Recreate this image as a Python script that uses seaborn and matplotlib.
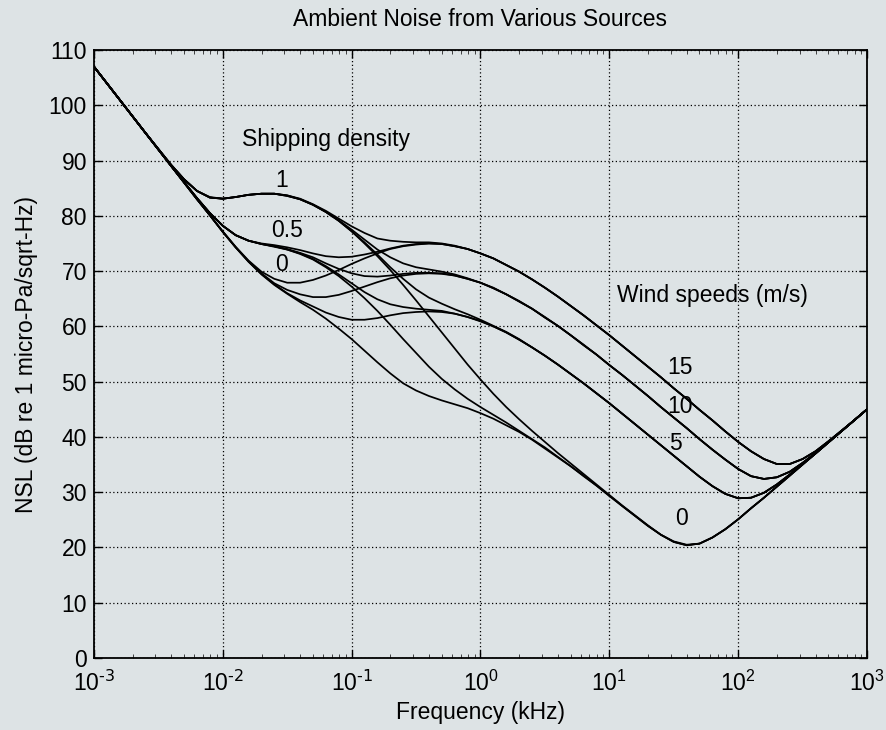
import matplotlib
matplotlib.use("Agg")
import matplotlib.pyplot as plt
import seaborn as sns
import pandas as pd

# sample frequencies (kHz), 0.1 decade apart
freq_khz = [0.001, 0.001259, 0.001585, 0.001995, 0.002512, 0.003162, 0.003981, 0.005012, 0.00631, 0.007943,
            0.01, 0.01259, 0.01585, 0.01995, 0.02512, 0.03162, 0.03981, 0.05012, 0.0631, 0.07943,
            0.1, 0.1259, 0.1585, 0.1995, 0.2512, 0.3162, 0.3981, 0.5012, 0.631, 0.7943,
            1.0, 1.259, 1.585, 1.995, 2.512, 3.162, 3.981, 5.012, 6.31, 7.943,
            10.0, 12.59, 15.85, 19.95, 25.12, 31.62, 39.81, 50.12, 63.1, 79.43,
            100.0, 125.9, 158.5, 199.5, 251.2, 316.2, 398.1, 501.2, 631.0, 794.3, 1000.0]

# NSL (dB), shipping density s / wind speed w
nsl_s0_w0 = [107.0, 104.0, 101.0, 98.0, 95.0, 92.0, 89.0, 86.0, 83.0, 80.1, 77.1, 74.3, 71.7, 69.4, 67.5, 65.9,
             64.4, 63.0, 61.4, 59.6, 57.7, 55.6, 53.5, 51.5, 49.7, 48.4, 47.4, 46.6, 45.9, 45.2, 44.3, 43.3,
             42.1, 40.9, 39.5, 37.9, 36.3, 34.7, 32.9, 31.2, 29.3, 27.5, 25.7, 23.9, 22.3, 21.0, 20.4, 20.7,
             21.8, 23.3, 25.1, 27.1, 29.0, 31.0, 33.0, 35.0, 37.0, 39.0, 41.0, 43.0, 45.0]
nsl_s0_w5 = [107.0, 104.0, 101.0, 98.0, 95.0, 92.0, 89.0, 86.0, 83.0, 80.1, 77.1, 74.3, 71.7, 69.5, 67.6, 66.0,
             64.7, 63.6, 62.5, 61.7, 61.2, 61.2, 61.5, 62.0, 62.4, 62.6, 62.7, 62.6, 62.3, 61.7, 60.9, 60.0,
             58.9, 57.6, 56.2, 54.7, 53.1, 51.4, 49.7, 47.9, 46.1, 44.2, 42.3, 40.4, 38.5, 36.6, 34.7, 32.8,
             31.1, 29.7, 28.9, 29.0, 29.9, 31.4, 33.2, 35.1, 37.0, 39.0, 41.0, 43.0, 45.0]
nsl_s0_w10 = [107.0, 104.0, 101.0, 98.0, 95.0, 92.0, 89.0, 86.0, 83.0, 80.1, 77.1, 74.3, 71.8, 69.6, 67.8, 66.6,
              65.8, 65.3, 65.3, 65.7, 66.4, 67.2, 68.0, 68.7, 69.2, 69.5, 69.6, 69.5, 69.2, 68.6, 67.9, 66.9,
              65.8, 64.5, 63.2, 61.6, 60.1, 58.4, 56.6, 54.9, 53.0, 51.2, 49.3, 47.4, 45.4, 43.5, 41.6, 39.6,
              37.7, 35.9, 34.2, 32.9, 32.4, 32.7, 33.7, 35.3, 37.1, 39.1, 41.0, 43.0, 45.0]
nsl_s0_w15 = [107.0, 104.0, 101.0, 98.0, 95.0, 92.0, 89.0, 86.0, 83.0, 80.1, 77.2, 74.4, 71.9, 69.9, 68.6, 67.9,
              67.9, 68.4, 69.2, 70.2, 71.3, 72.3, 73.2, 74.0, 74.5, 74.8, 75.0, 74.9, 74.5, 74.0, 73.2, 72.3,
              71.1, 69.9, 68.5, 67.0, 65.4, 63.7, 62.0, 60.2, 58.4, 56.5, 54.6, 52.7, 50.8, 48.8, 46.9, 44.9,
              43.0, 41.0, 39.1, 37.4, 36.0, 35.1, 35.1, 36.0, 37.4, 39.2, 41.1, 43.0, 45.0]
nsl_s05_w0 = [107.0, 104.0, 101.0, 98.0, 95.0, 92.0, 89.0, 86.1, 83.2, 80.5, 78.2, 76.5, 75.5, 74.9, 74.4, 73.9,
              73.1, 72.1, 70.7, 69.1, 67.2, 65.1, 62.8, 60.3, 57.7, 55.2, 52.7, 50.5, 48.6, 46.9, 45.4, 44.0,
              42.6, 41.1, 39.6, 38.1, 36.4, 34.7, 33.0, 31.2, 29.4, 27.5, 25.7, 23.9, 22.3, 21.0, 20.4, 20.7,
              21.8, 23.3, 25.1, 27.1, 29.0, 31.0, 33.0, 35.0, 37.0, 39.0, 41.0, 43.0, 45.0]
nsl_s05_w5 = [107.0, 104.0, 101.0, 98.0, 95.0, 92.0, 89.0, 86.1, 83.2, 80.5, 78.2, 76.5, 75.5, 74.9, 74.5, 73.9,
              73.2, 72.2, 70.9, 69.4, 67.8, 66.2, 64.9, 64.0, 63.5, 63.2, 63.0, 62.8, 62.3, 61.7, 61.0, 60.0,
              58.9, 57.6, 56.2, 54.7, 53.1, 51.4, 49.7, 47.9, 46.1, 44.2, 42.3, 40.4, 38.5, 36.6, 34.7, 32.8,
              31.1, 29.7, 28.9, 29.0, 29.9, 31.4, 33.2, 35.1, 37.0, 39.0, 41.0, 43.0, 45.0]
nsl_s05_w10 = [107.0, 104.0, 101.0, 98.0, 95.0, 92.0, 89.0, 86.1, 83.2, 80.5, 78.2, 76.5, 75.5, 74.9, 74.5, 74.0,
               73.3, 72.5, 71.4, 70.4, 69.6, 69.1, 69.0, 69.2, 69.5, 69.7, 69.7, 69.6, 69.2, 68.6, 67.9, 66.9,
               65.8, 64.5, 63.2, 61.6, 60.1, 58.4, 56.6, 54.9, 53.0, 51.2, 49.3, 47.4, 45.4, 43.5, 41.6, 39.6,
               37.7, 35.9, 34.2, 32.9, 32.4, 32.7, 33.7, 35.3, 37.1, 39.1, 41.0, 43.0, 45.0]
nsl_s05_w15 = [107.0, 104.0, 101.0, 98.0, 95.0, 92.0, 89.0, 86.1, 83.2, 80.5, 78.2, 76.5, 75.5, 75.0, 74.7, 74.3,
               73.8, 73.2, 72.7, 72.5, 72.6, 73.0, 73.5, 74.1, 74.6, 74.9, 75.0, 74.9, 74.5, 74.0, 73.2, 72.3,
               71.1, 69.9, 68.5, 67.0, 65.4, 63.7, 62.0, 60.2, 58.4, 56.5, 54.6, 52.7, 50.8, 48.8, 46.9, 44.9,
               43.0, 41.0, 39.1, 37.4, 36.0, 35.1, 35.1, 36.0, 37.4, 39.2, 41.1, 43.0, 45.0]
nsl_s1_w0 = [107.0, 104.0, 101.0, 98.0, 95.0, 92.1, 89.2, 86.6, 84.5, 83.3, 83.1, 83.4, 83.8, 84.0, 84.0, 83.6,
             83.0, 82.0, 80.7, 79.1, 77.2, 75.0, 72.7, 70.2, 67.5, 64.7, 61.8, 58.9, 56.0, 53.1, 50.4, 47.8,
             45.4, 43.2, 41.1, 39.1, 37.1, 35.2, 33.3, 31.4, 29.5, 27.6, 25.8, 24.0, 22.3, 21.1, 20.5, 20.7,
             21.8, 23.3, 25.1, 27.1, 29.0, 31.0, 33.0, 35.0, 37.0, 39.0, 41.0, 43.0, 45.0]
nsl_s1_w5 = [107.0, 104.0, 101.0, 98.0, 95.0, 92.1, 89.2, 86.6, 84.5, 83.3, 83.1, 83.4, 83.8, 84.0, 84.0, 83.6,
             83.0, 82.0, 80.7, 79.1, 77.2, 75.2, 73.0, 70.7, 68.6, 66.7, 65.2, 64.1, 63.1, 62.2, 61.2, 60.1,
             59.0, 57.7, 56.2, 54.7, 53.1, 51.4, 49.7, 47.9, 46.1, 44.2, 42.3, 40.4, 38.5, 36.6, 34.7, 32.8,
             31.1, 29.7, 28.9, 29.0, 29.9, 31.4, 33.2, 35.1, 37.0, 39.0, 41.0, 43.0, 45.0]
nsl_s1_w10 = [107.0, 104.0, 101.0, 98.0, 95.0, 92.1, 89.2, 86.6, 84.5, 83.3, 83.1, 83.4, 83.8, 84.0, 84.0, 83.7,
              83.0, 82.0, 80.7, 79.2, 77.5, 75.7, 73.9, 72.5, 71.4, 70.7, 70.3, 69.9, 69.4, 68.7, 67.9, 67.0,
              65.8, 64.6, 63.2, 61.7, 60.1, 58.4, 56.7, 54.9, 53.0, 51.2, 49.3, 47.4, 45.4, 43.5, 41.6, 39.6,
              37.7, 35.9, 34.2, 32.9, 32.4, 32.7, 33.7, 35.3, 37.1, 39.1, 41.0, 43.0, 45.0]
nsl_s1_w15 = [107.0, 104.0, 101.0, 98.0, 95.0, 92.1, 89.2, 86.6, 84.5, 83.4, 83.1, 83.4, 83.8, 84.0, 84.0, 83.7,
              83.1, 82.1, 80.9, 79.5, 78.1, 76.9, 75.9, 75.5, 75.3, 75.2, 75.2, 75.0, 74.6, 74.0, 73.2, 72.3,
              71.1, 69.9, 68.5, 67.0, 65.4, 63.7, 62.0, 60.2, 58.4, 56.5, 54.6, 52.7, 50.8, 48.8, 46.9, 44.9,
              43.0, 41.0, 39.1, 37.4, 36.0, 35.1, 35.1, 36.0, 37.4, 39.2, 41.1, 43.0, 45.0]

x_ticks = [1e-3, 1e-2, 1e-1, 1e0, 1e1, 1e2, 1e3]
x_ticklabels = [r"$10^{\text{-3}}$", r"$10^{\text{-2}}$", r"$10^{\text{-1}}$", r"$10^{0}$",
                r"$10^{1}$", r"$10^{2}$", r"$10^{3}$"]

curves = {
    "s0_w0": nsl_s0_w0, "s0_w5": nsl_s0_w5, "s0_w10": nsl_s0_w10, "s0_w15": nsl_s0_w15,
    "s05_w0": nsl_s05_w0, "s05_w5": nsl_s05_w5, "s05_w10": nsl_s05_w10, "s05_w15": nsl_s05_w15,
    "s1_w0": nsl_s1_w0, "s1_w5": nsl_s1_w5, "s1_w10": nsl_s1_w10, "s1_w15": nsl_s1_w15,
}
df = pd.concat([pd.DataFrame({"freq": freq_khz, "nsl": v, "curve": k}) for k, v in curves.items()])

bg = "#dde3e5"
fs = 16.5
sns.set_theme(style="ticks")
plt.rcParams["font.family"] = ["Liberation Sans", "DejaVu Sans"]
plt.rcParams["mathtext.default"] = "regular"
plt.rcParams["axes.linewidth"] = 1.3
plt.rcParams["text.color"] = "black"
plt.rcParams["axes.labelcolor"] = "black"

fig = plt.figure(figsize=(8.86, 7.3), dpi=100, facecolor=bg)
ax = fig.add_axes([0.106, 0.0986, 0.8726, 0.8329])
ax.set_facecolor(bg)

sns.lineplot(data=df, x="freq", y="nsl", units="curve", estimator=None, sort=False,
             color="black", linewidth=1.25, ax=ax)

ax.set_xscale("log")
ax.set_xlim(1e-3, 1e3)
ax.set_ylim(0, 110)
ax.set_yticks(range(0, 111, 10))
ax.set_xticks(x_ticks)
ax.set_xticklabels(x_ticklabels)
ax.grid(True, which="major", color="black", linestyle=(0, (1, 2)), linewidth=0.9)
ax.tick_params(which="both", direction="in", top=True, right=True, labelsize=fs, colors="black")
ax.tick_params(which="major", length=6, width=1.0)
ax.tick_params(which="minor", length=3, width=0.5)
ax.tick_params(axis="y", pad=5)
ax.tick_params(axis="x", pad=9)
for sp in ax.spines.values():
    sp.set_color("black")

ax.set_title("Ambient Noise from Various Sources", fontsize=fs, pad=17, color="black")
ax.set_xlabel("Frequency (kHz)", fontsize=fs, labelpad=4)
ax.set_ylabel("NSL (dB re 1 micro-Pa/sqrt-Hz)", fontsize=fs, labelpad=8)

ax.text(0.0141, 92.6, "Shipping density", fontsize=fs, va="baseline", ha="left")
ax.text(0.0288, 85.2, "1", fontsize=fs, va="baseline", ha="center")
ax.text(0.0315, 76.2, "0.5", fontsize=fs, va="baseline", ha="center")
ax.text(0.0288, 70.0, "0", fontsize=fs, va="baseline", ha="center")
ax.text(11.5, 64.5, "Wind speeds (m/s)", fontsize=fs, va="baseline", ha="left")
ax.text(35.5, 51.3, "15", fontsize=fs, va="baseline", ha="center")
ax.text(35.5, 44.3, "10", fontsize=fs, va="baseline", ha="center")
ax.text(32.4, 37.6, "5", fontsize=fs, va="baseline", ha="center")
ax.text(36.1, 24.1, "0", fontsize=fs, va="baseline", ha="center")

fig.savefig("out.png", dpi=100, facecolor=bg)
